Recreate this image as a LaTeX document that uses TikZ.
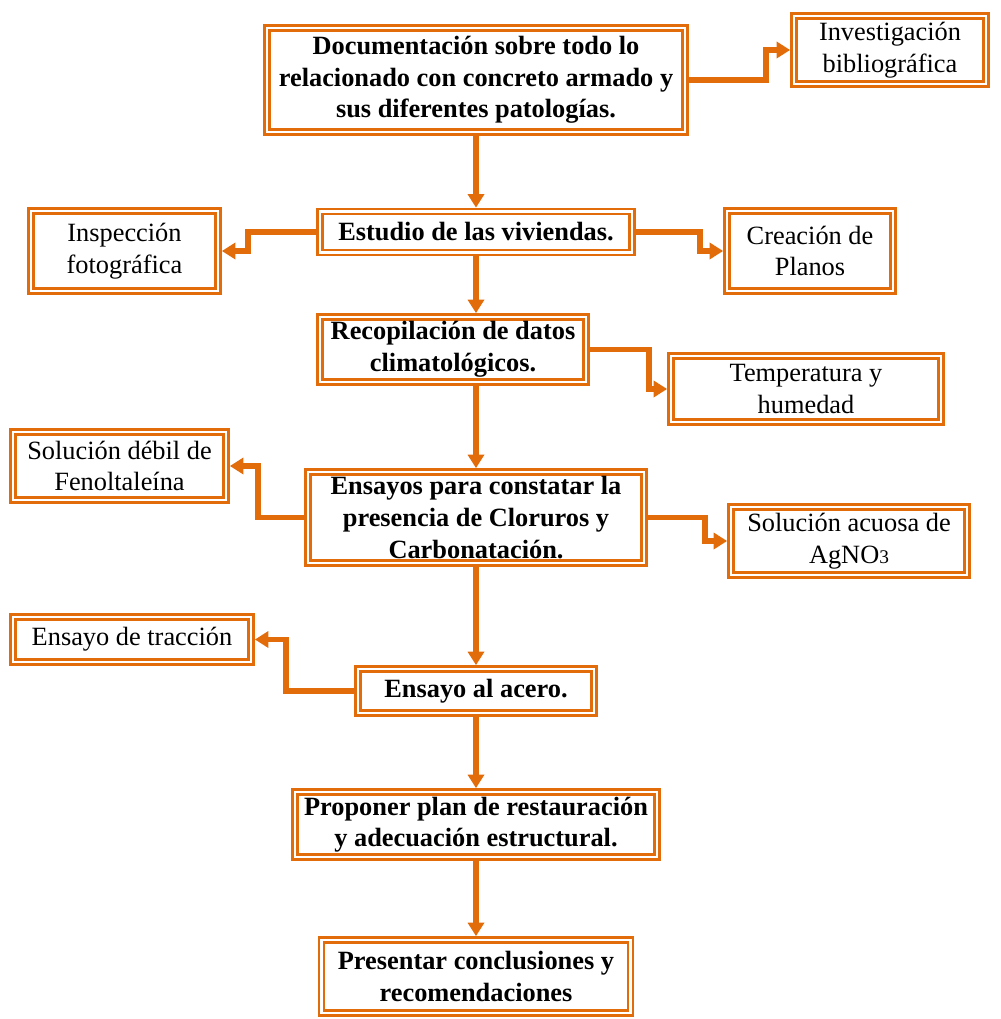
\documentclass[tikz,border=0pt]{standalone}
\usepackage{fontspec}
\setmainfont{Liberation Serif}
\usepackage{xcolor}
\usetikzlibrary{arrows.meta}
\definecolor{naranja}{HTML}{E36C0A}

\begin{document}
\begin{tikzpicture}[scale=1,
  caja/.style={draw=naranja,line width=1.6pt,double=white,double distance=1.2pt,
    align=center,inner sep=0pt,outer sep=2.2pt,font=\fontsize{15pt}{18pt}\selectfont},
  cajab/.style={caja,font=\fontsize{15pt}{18pt}\selectfont\bfseries},
  flecha/.style={draw=naranja,line width=3.4pt,-{Triangle[length=0.27cm,width=0.32cm]}}]
\useasboundingbox (0,0) rectangle (20,-20.38);

\node[cajab,minimum width=8.36cm,minimum height=2.08cm] (doc) at (9.52,-1.6)
  {Documentación sobre todo lo\\ relacionado con concreto armado y\\ sus diferentes patologías.};
\node[caja,minimum width=3.84cm,minimum height=1.36cm] (inv) at (17.8,-1.0)
  {Investigación\\ bibliográfica};

\node[cajab,minimum width=6.24cm,minimum height=0.82cm] (est) at (9.52,-4.64)
  {Estudio de las viviendas.};
\node[caja,minimum width=3.74cm,minimum height=1.6cm] (insp) at (2.49,-5.02)
  {Inspección\\ fotográfica};
\node[caja,minimum width=3.32cm,minimum height=1.6cm] (crea) at (16.2,-5.02)
  {Creación de\\ Planos};

\node[cajab,minimum width=5.32cm,minimum height=1.3cm] (recop) at (9.06,-6.99)
  {Recopilación de datos\\ climatológicos.};
\node[caja,minimum width=5.4cm,minimum height=1.32cm] (temp) at (16.12,-7.78)
  {Temperatura y\\ humedad};

\node[cajab,minimum width=6.72cm,minimum height=1.82cm] (ens) at (9.52,-10.35)
  {Ensayos para constatar la\\ presencia de Cloruros y\\ Carbonatación.};
\node[caja,minimum width=4.26cm,minimum height=1.36cm] (fen) at (2.39,-9.32)
  {Solución débil de\\ Fenoltaleína};
\node[caja,minimum width=4.72cm,minimum height=1.36cm] (agno) at (16.98,-10.82)
  {Solución acuosa de\\ AgNO{\fontsize{11pt}{13pt}\selectfont 3}};

\node[cajab,minimum width=4.72cm,minimum height=0.88cm] (acero) at (9.52,-13.82)
  {Ensayo al acero.};
\node[caja,minimum width=4.76cm,minimum height=0.9cm] (trac) at (2.64,-12.79)
  {Ensayo de tracción};

\node[cajab,minimum width=7.24cm,minimum height=1.3cm] (prop) at (9.52,-16.49)
  {Proponer plan de restauración\\ y adecuación estructural.};
\node[cajab,minimum width=6.18cm,minimum height=1.46cm] (pres) at (9.52,-19.53)
  {Presentar conclusiones y\\ recomendaciones};

\draw[flecha] (doc) -- (est);
\draw[flecha] (est) -- (est |- recop.north);
\draw[flecha] (recop.south -| est) -- (ens);
\draw[flecha] (ens) -- (acero);
\draw[flecha] (acero) -- (prop);
\draw[flecha] (prop) -- (pres);

\draw[flecha] (doc.east) -| ([xshift=-0.48cm]inv.west) -- (inv.west);
\draw[flecha] (est.west) -| ([xshift=0.52cm]insp.east) -- (insp.east);
\draw[flecha] (est.east) -| ([xshift=-0.46cm]crea.west) -- (crea.west);
\draw[flecha] (recop.east) -| ([xshift=-0.36cm]temp.west) -- (temp.west);
\draw[flecha] (ens.west) -| ([xshift=0.56cm]fen.east) -- (fen.east);
\draw[flecha] (ens.east) -| ([xshift=-0.44cm]agno.west) -- (agno.west);
\draw[flecha] (acero.west) -| ([xshift=0.62cm]trac.east) -- (trac.east);
\end{tikzpicture}
\end{document}
